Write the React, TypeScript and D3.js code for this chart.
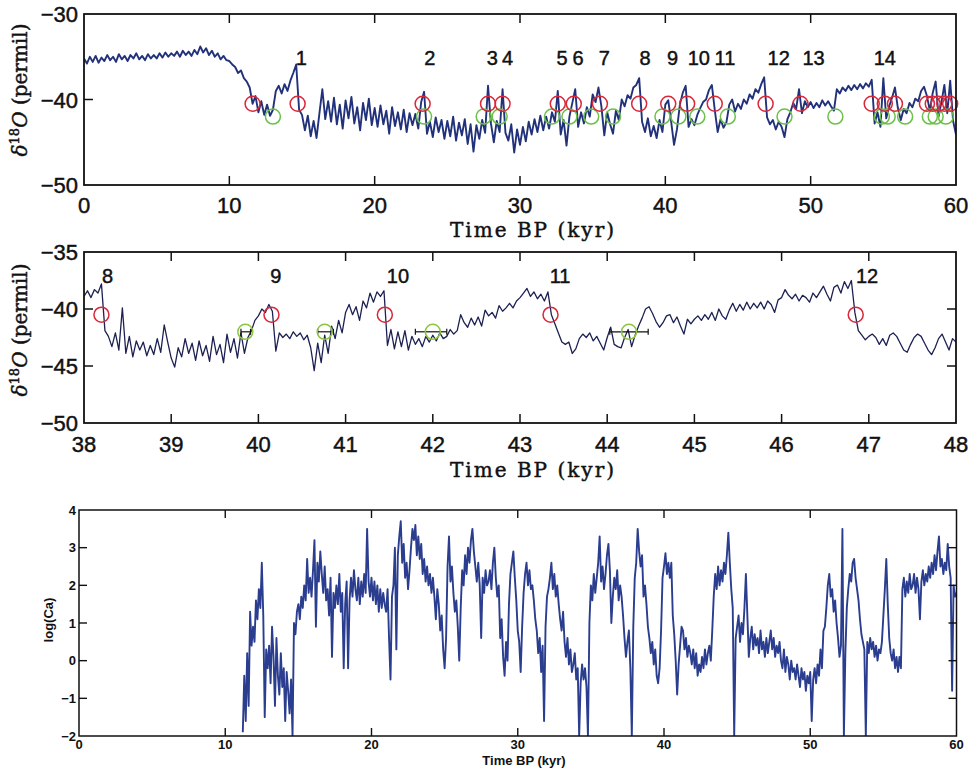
import React from 'react';
import * as d3 from 'd3';

// ---------- data ----------
// top panel: d18O, 0..60 kyr, sampled every 0.2 kyr
const topStart = 0;
const topStep = 0.2;
const topD18O: number[] = [
  -35.2, -35.8, -35.0, -35.6, -34.9, -35.7, -35.1, -35.5, -34.8, -35.4, -35.0, -35.6, -34.7, -35.3, -34.9, -35.5, -34.8, -35.2, -34.6, -35.3, -34.9, -35.4, -34.7, -35.2, -34.8,
  -35.2, -34.6, -35.1, -34.5, -35.0, -34.6, -34.9, -34.4, -35.0, -34.3, -34.8, -34.4, -34.9, -34.2, -34.7, -33.8, -34.5, -34.0, -34.8, -34.3, -35.0, -34.6, -35.3, -34.9, -35.4,
  -35.5, -35.9, -36.2, -36.9, -36.6, -37.5, -37.9, -38.6, -40.5, -39.6, -41.5, -40.2, -41.8, -40.6, -41.9, -41.2, -39.0, -38.4, -39.3, -38.2, -39.0, -37.8, -36.9, -35.9, -41.2,
  -41.8, -43.6, -41.9, -44.3, -42.5, -44.5, -41.6, -38.8, -42.3, -40.2, -42.6, -39.8, -42.9, -40.6, -43.4, -40.1, -42.2, -39.7, -42.8, -40.9, -43.6, -40.4, -42.4, -39.9, -43.0,
  -41.0, -43.2, -40.7, -42.9, -41.3, -44.0, -40.9, -43.1, -41.5, -43.5, -41.2, -43.8, -41.6, -43.0, -41.7, -43.4, -40.3, -39.1, -44.0, -42.6, -44.4, -42.1, -43.8, -42.4, -44.6,
  -42.5, -44.3, -42.0, -44.8, -42.7, -44.2, -42.3, -45.2, -42.9, -46.1, -43.0, -44.6, -42.4, -43.9, -38.4, -42.8, -45.0, -42.5, -43.8, -38.8, -43.9, -44.8, -42.9, -46.2, -43.5,
  -45.3, -43.2, -44.9, -42.6, -44.1, -42.3, -43.8, -41.9, -43.6, -42.0, -43.4, -41.5, -42.6, -39.0, -44.1, -42.4, -45.4, -42.0, -40.4, -38.8, -43.2, -41.5, -42.8, -40.9, -42.0,
  -39.4, -40.3, -38.6, -40.8, -44.2, -41.5, -42.9, -44.0, -41.3, -42.4, -40.0, -40.8, -39.5, -39.9, -38.6, -38.3, -37.5, -42.6, -43.8, -42.2, -44.3, -43.1, -44.5, -42.4, -43.8,
  -40.6, -40.1, -42.6, -45.3, -43.5, -40.6, -39.2, -38.4, -43.2, -42.3, -43.0, -41.8, -41.0, -40.3, -40.0, -38.9, -38.3, -41.2, -43.8, -42.3, -43.3, -42.7, -40.6, -40.0, -41.4,
  -40.5, -41.1, -40.0, -40.5, -39.4, -39.9, -38.8, -39.2, -38.2, -37.4, -42.1, -42.9, -42.4, -43.5, -42.6, -43.2, -44.4, -42.3, -41.5, -40.4, -41.1, -38.8, -41.6, -40.2, -40.9,
  -40.3, -41.0, -40.4, -40.9, -40.1, -40.7, -40.2, -40.8, -41.3, -38.8, -39.3, -38.6, -39.0, -38.4, -38.9, -38.3, -38.8, -38.2, -38.7, -38.1, -38.5, -37.7, -42.8, -41.5, -43.2,
  -37.5, -42.2, -40.8, -39.8, -38.6, -41.0, -42.4, -41.1, -41.6, -40.4, -40.9, -39.9, -40.2, -39.0, -38.5, -39.6, -41.3, -39.2, -37.9, -42.0, -40.3, -38.3, -41.6, -37.8, -42.5, -44.1,
];
const topRedKyr = [11.6, 14.7, 23.3, 27.8, 28.8, 32.6, 33.7, 35.5, 38.2, 40.2, 41.5, 43.4, 46.9, 49.3, 54.2, 55.1, 55.8, 58.0, 58.4, 58.8, 59.2, 59.6];
const topGreenKyr = [13.0, 23.4, 27.5, 28.6, 32.2, 33.4, 34.9, 36.4, 39.8, 40.9, 42.2, 44.3, 48.2, 51.7, 54.9, 55.3, 56.5, 58.2, 58.6, 59.3];
const redLevel = -40.5;
const greenLevel = -42;
const topEventLabels = ['1', '2', '3', '4', '5', '6', '7', '8', '9', '10', '11', '12', '13', '14'];
const topEventKyr = [14.95, 23.8, 28.1, 29.15, 32.9, 34.0, 35.8, 38.6, 40.5, 42.3, 44.1, 47.8, 50.2, 55.1];
const topXTicks = [0, 10, 20, 30, 40, 50, 60];
const topYTicks = [-30, -40, -50];

// middle panel: d18O, 38..48 kyr, sampled every 0.04 kyr
const midStart = 38;
const midStep = 0.04;
const midD18O: number[] = [
  -38.9, -38.4, -39.0, -38.3, -38.6, -37.8, -41.9, -42.4, -43.3, -42.1, -43.6, -39.9, -43.9, -42.4, -44.2, -42.8, -43.6, -42.9, -44.1, -43.2, -44.0, -42.6, -43.8, -41.4, -42.9,
  -44.3, -45.1, -43.4, -44.2, -42.6, -43.9, -43.0, -44.5, -42.8, -44.1, -43.2, -44.6, -42.4, -44.0, -43.1, -44.7, -42.2, -43.8, -42.6, -44.3, -42.1, -43.9, -42.5, -41.9, -41.0,
  -40.6, -40.0, -40.3, -39.6, -40.2, -43.7, -42.1, -42.5, -42.2, -42.6, -42.0, -42.4, -42.1, -42.7, -42.3, -43.4, -45.4, -43.0, -44.7, -42.3, -43.9, -41.5, -42.6, -41.0, -42.1,
  -40.3, -39.6, -40.5, -39.8, -41.0, -39.3, -39.9, -38.6, -39.4, -38.5, -38.9, -38.4, -43.2, -41.8, -43.5, -42.0, -43.3, -41.9, -43.6, -42.4, -43.1, -42.6, -43.3, -42.4, -42.9,
  -42.3, -42.8, -42.1, -42.6, -42.4, -41.8, -42.2, -41.9, -40.5, -41.2, -41.6, -40.8, -41.4, -40.7, -41.5, -40.1, -40.6, -40.3, -40.8, -39.7, -40.2, -39.9, -39.5, -39.9, -39.3,
  -39.0, -38.6, -38.2, -38.9, -38.5, -39.1, -38.7, -39.3, -38.5, -40.5, -41.3, -42.1, -42.9, -43.1, -42.9, -43.9, -43.5, -42.6, -42.2, -42.5, -42.1, -42.8, -42.4, -43.0, -43.6,
  -42.5, -41.6, -43.1, -43.3, -43.4, -42.5, -41.8, -43.3, -42.3, -41.5, -40.8, -40.0, -39.8, -40.4, -41.1, -41.6, -41.2, -40.6, -40.5, -41.2, -40.7, -41.5, -42.2, -40.9, -41.3,
  -40.9, -40.6, -41.0, -40.5, -40.9, -40.3, -41.0, -40.0, -40.6, -40.9, -40.1, -39.5, -40.2, -39.6, -40.1, -39.4, -40.0, -39.5, -39.9, -39.4, -40.0, -39.3, -39.6, -40.3, -39.2,
  -39.0, -38.3, -38.8, -39.1, -38.7, -39.3, -38.8, -39.0, -39.4, -38.6, -39.0, -38.5, -38.0, -38.7, -39.3, -38.1, -37.9, -38.6, -37.6, -38.2, -37.5, -40.3, -41.9, -42.3, -42.7,
  -42.4, -42.2, -42.5, -43.1, -42.6, -43.2, -42.3, -42.1, -42.4, -43.0, -43.6, -43.8, -43.1, -42.5, -42.2, -42.4, -43.0, -43.6, -44.0, -43.4, -42.6, -42.2, -42.9, -43.6, -42.6, -42.9,
];
const midRedKyr = [38.2, 40.15, 41.45, 43.35, 46.85];
const midGreenKyr = [39.85, 40.76, 42.0, 44.25];
const midErrLo = [39.8, 40.68, 41.8, 44.03];
const midErrHi = [39.91, 40.86, 42.16, 44.47];
const midEventLabels = ['8', '9', '10', '11', '12'];
const midEventKyr = [38.27, 40.2, 41.6, 43.46, 46.98];
const midXTicks = [38, 39, 40, 41, 42, 43, 44, 45, 46, 47, 48];
const midYTicks = [-35, -40, -45, -50];

// bottom panel: log(Ca), 11.2..60 kyr, sampled every 0.1 kyr
const caStart = 11.2;
const caStep = 0.1;
const logCa: number[] = [
  -1.9, -0.4, -1.6, 0.2, -1.2, 1.3, 0.4, 0.9,
  0.5, 1.6, 1.1, 1.9, 1.4, 2.6, 1.2, -1.5, 0.3, -0.2,
  0.4, -0.6, 0.9, 0.1, -1.2, 0.6, -0.4, -0.9, 0.2, -0.7,
  -0.2, -1.6, -0.3, -0.8, -1.4, -0.5, -2.0, 1.0, 0.7, 1.3,
  1.5, 1.1, 1.7, 1.4, 2.0, 1.6, 2.7, 1.8, 2.2, 1.7,
  2.4, 3.2, 0.9, 2.6, 2.1, 2.9, 2.3, 1.8, 2.5, 1.6,
  1.9, 1.2, 2.2, 0.1, 1.8, 1.4, 2.0, 1.5, 2.3, 1.3,
  1.8, -0.2, 1.5, 2.1, -0.2, 1.6, 2.2, 1.7, 2.4, 1.9,
  1.6, 2.2, 1.5, 2.1, 1.7, 2.3, 1.8, 3.5, 2.1, 1.7,
  2.2, 1.6, 2.1, 1.5, 2.0, 1.3, 1.9, 1.4, 1.8, 1.5,
  1.3, 1.9, 0.6, -0.5, 1.7, 2.0, 3.0, 0.3, 2.8, 3.3,
  3.7, 2.6, 3.1, 2.2, 2.6, 1.9, 2.4, 3.0, 3.5, 3.2,
  3.6, 2.8, 3.3, 2.7, 3.1, 2.3, 2.7, 2.1, 2.5, 2.0,
  2.3, 1.8, 2.2, 1.7, 1.1, 1.9, 1.5, 0.8, 1.2, 0.3,
  -0.2, 0.6, 2.5, 3.3, 2.1, 2.5, 1.8, 1.3, 1.6, 0.9,
  0.0, 1.4, 2.4, 2.0, 2.8, 2.3, 3.0, 2.6, 3.2, 3.5,
  2.9, 2.5, 2.1, 2.6, 2.0, 0.6, 2.2, 1.8, 2.4, 2.0,
  2.1, 2.4, 1.9, 2.6, 3.0, 2.2, 1.7, 2.0, 0.6, 1.1,
  0.1, -0.4, 0.5, 0.0, 1.5, 2.3, 2.6, 2.9, 2.2, 1.6,
  0.8, 0.5, -0.3, 0.9, 1.8, 2.3, 2.6, 2.0, 2.4, 1.9,
  2.0, 1.6, 1.1, 0.8, 0.2, 0.6, -0.3, 0.4, -1.6, 0.9,
  1.7, 1.9, 2.2, 2.6, 1.9, 2.3, 1.7, 2.0, 1.5, 1.1,
  0.8, 1.3, 0.5, 0.1, 0.6, -0.1, 0.3, -0.3, -0.1, 0.2,
  -0.5, -0.2, -2.0, -0.6, -0.1, -0.5, -0.2, -0.7, -2.0, 1.0,
  2.0, 1.6, 2.3, 1.8, 2.2, 2.6, 3.3, 2.1, 2.5, 1.9,
  2.3, 2.8, 3.1, 2.4, 1.0, 1.7, 2.2, 1.9, 2.4, 1.6,
  2.0, 1.7, 1.2, 0.6, 0.1, 0.5, 0.8, -0.2, -2.0, 0.9,
  2.2, 2.6, 3.5, 2.9, 2.5, 2.8, 1.7, 2.0, 1.5, 0.9,
  0.6, 0.2, 0.5, -0.1, 0.3, -0.4, -0.6, -0.2, 0.8, 2.2,
  2.5, 2.85, 2.3, 2.6, 2.2, 2.6, 1.2, 0.7, 0.0, -0.9,
  -0.1, 0.4, 0.9, 0.8, 0.3, 0.6, 0.1, 0.4, 0.2, -0.1,
  0.3, -0.2, 0.2, -0.4, -0.1, -0.3, 0.1, -0.2, 0.3, -0.1,
  0.2, 0.4, 0.0, 0.8, 1.7, 2.3, 1.9, 2.5, 2.0, 2.4,
  2.1, 2.6, 2.3, 2.8, 3.4, 2.6, 1.9, 1.4, -2.0, 0.6,
  0.9, 1.2, 0.5, 1.0, 0.7, 1.4, 2.3, 1.2, 0.1, 0.6,
  0.9, 0.3, 0.7, 0.4, 0.6, 0.2, 0.8, 0.3, 0.5, 0.1,
  0.6, 0.2, 0.5, 0.8, 0.3, 0.6, 0.1, 0.4, 0.2, 0.5,
  0.0, -0.2, 0.3, -0.3, 0.1, -0.1, -0.5, 0.0, -0.3, -0.2,
  -0.5, -0.1, -0.4, -0.7, -0.2, -0.5, -0.3, -0.8, -0.4, -0.6,
  -0.3, -1.6, -0.5, -0.2, -0.6, -0.1, -0.4, 0.3, -0.2, 0.8,
  0.9, 1.4, 2.0, 2.3, 1.7, 1.9, 1.3, 1.6, 1.0, 0.6,
  0.1, 0.4, 3.5, -2.0, 0.2, 1.4, 1.9, 2.3, 2.1, 2.6,
  2.7, 2.2, 1.9, 1.6, 1.1, 0.7, 0.5, 0.3, -2.0, 0.5,
  0.2, 0.6, 0.3, 0.5, 0.1, 0.4, 0.0, 0.3, 0.2, 0.5,
  1.2, 1.9, 2.7, 1.5, 0.6, 0.2, 0.0, 0.3, -0.2, 0.1,
  -0.3, 0.1, -0.2, 1.9, 2.2, 1.7, 2.1, 1.8, 2.3, 1.9,
  2.0, 2.3, 1.8, 2.2, 1.9, 1.1, 2.1, 2.4, 2.0, 2.3,
  2.1, 2.5, 2.2, 2.6, 2.3, 2.8, 2.4, 2.9, 3.3, 2.5,
  2.7, 2.3, 2.6, 2.4, 3.1, 2.5, 2.2, -0.8, 2.0, 1.7,
  1.8,
];
const caXTicks = [0, 10, 20, 30, 40, 50, 60];
const caYTicks = [4, 3, 2, 1, 0, -1, -2];

// ---------- styling ----------
const SANS = "'Liberation Sans', Arial, Helvetica, sans-serif";
const SERIF = "'DejaVu Serif', 'Liberation Serif', serif";
const INK = '#111';

type P = [number, number];

function series(start: number, step: number, vals: number[]): P[] {
  return vals.map((v, i) => [start + i * step, v] as P);
}

export default function App() {
  // scales
  const xTop = d3.scaleLinear().domain([0, 60]).range([84, 956]);
  const yTop = d3.scaleLinear().domain([-50, -30]).range([185, 14]);
  const xMid = d3.scaleLinear().domain([38, 48]).range([84, 956]);
  const yMid = d3.scaleLinear().domain([-50, -35]).range([423, 252]);
  const xCa = d3.scaleLinear().domain([0, 60]).range([79, 956.5]);
  const yCa = d3.scaleLinear().domain([-2, 4]).range([736, 510]);

  const topLine = d3.line<P>().x((d) => xTop(d[0])).y((d) => yTop(d[1]))(series(topStart, topStep, topD18O)) || '';
  const midLine = d3.line<P>().x((d) => xMid(d[0])).y((d) => yMid(d[1]))(series(midStart, midStep, midD18O)) || '';
  const caLine = d3.line<P>().x((d) => xCa(d[0])).y((d) => yCa(d[1]))(series(caStart, caStep, logCa)) || '';

  const tl = 9; // tick length for upper panels
  const tlc = 8; // tick length for Ca panel

  const heavy = { stroke: INK, strokeWidth: 0.45 };

  const yLabel = (cx: number, cy: number) => (
    <text
      transform={`translate(${cx},${cy}) rotate(-90)`}
      textAnchor="middle"
      fontFamily={SERIF}
      fontSize={20}
      fill={INK}
      {...heavy}
    >
      <tspan fontStyle="italic">δ</tspan>
      <tspan fontSize={13} dy={-8}>18</tspan>
      <tspan fontStyle="italic" dy={8}>O</tspan>
      <tspan>{' (permil)'}</tspan>
    </text>
  );

  const xTitle = (y: number) => (
    <text x={533} y={y} textAnchor="middle" fontFamily={SERIF} fontSize={20} letterSpacing={2} fill={INK} {...heavy}>
      Time BP (kyr)
    </text>
  );

  return (
    <svg
      width={979}
      height={770}
      viewBox="0 0 979 770"
      style={{ position: 'absolute', left: 0, top: 0, display: 'block', background: '#fff' }}
    >
      <defs>
        <clipPath id="clipTop">
          <rect x={84} y={14} width={872} height={171} />
        </clipPath>
        <clipPath id="clipMid">
          <rect x={84} y={252} width={872} height={171} />
        </clipPath>
        <clipPath id="clipCa">
          <rect x={79} y={510} width={877.5} height={226} />
        </clipPath>
      </defs>
      <rect x={0} y={0} width={979} height={770} fill="#fff" />

      {/* ================= TOP PANEL ================= */}
      <g clipPath="url(#clipTop)">
        <path d={topLine} fill="none" stroke="#22327a" strokeWidth={1.9} strokeLinejoin="round" />
      </g>
      {topGreenKyr.map((k, i) => (
        <circle key={'tg' + i} cx={xTop(k)} cy={yTop(greenLevel)} r={7.5} fill="none" stroke="#6cc04a" strokeWidth={1.5} />
      ))}
      {topRedKyr.map((k, i) => (
        <circle key={'tr' + i} cx={xTop(k)} cy={yTop(redLevel)} r={7.5} fill="none" stroke="#d8283a" strokeWidth={1.5} />
      ))}
      {topEventLabels.map((s, i) => (
        <text key={'tl' + i} x={xTop(topEventKyr[i])} y={65} textAnchor="middle" fontFamily={SANS} fontSize={20} fill={INK} {...heavy}>
          {s}
        </text>
      ))}
      <rect x={84} y={14} width={872} height={171} fill="none" stroke={INK} strokeWidth={1.8} />
      {topXTicks.filter((t) => t > 0 && t < 60).map((t) => (
        <g key={'ttx' + t}>
          <line x1={xTop(t)} x2={xTop(t)} y1={14} y2={14 + tl} stroke={INK} strokeWidth={1.5} />
          <line x1={xTop(t)} x2={xTop(t)} y1={185} y2={185 - tl} stroke={INK} strokeWidth={1.5} />
        </g>
      ))}
      {topYTicks.filter((t) => t > -50 && t < -30).map((t) => (
        <line key={'tty' + t} x1={84} x2={84 + tl} y1={yTop(t)} y2={yTop(t)} stroke={INK} strokeWidth={1.5} />
      ))}
      {topXTicks.map((t) => (
        <text key={'txl' + t} x={xTop(t)} y={213} textAnchor="middle" fontFamily={SANS} fontSize={22} fill={INK} {...heavy}>
          {String(t)}
        </text>
      ))}
      {topYTicks.map((t) => (
        <text key={'tyl' + t} x={78} y={yTop(t) + 8} textAnchor="end" fontFamily={SANS} fontSize={22} fill={INK} {...heavy}>
          {'\u2212' + Math.abs(t)}
        </text>
      ))}
      {xTitle(237)}
      {yLabel(27, 90)}

      {/* ================= MIDDLE PANEL ================= */}
      <g clipPath="url(#clipMid)">
        <path d={midLine} fill="none" stroke="#1c2152" strokeWidth={1.3} strokeLinejoin="round" />
      </g>
      {midErrLo.map((lo, i) => (
        <g key={'me' + i} stroke={INK} strokeWidth={1.2}>
          <line x1={xMid(lo)} x2={xMid(midErrHi[i])} y1={yMid(greenLevel)} y2={yMid(greenLevel)} />
          <line x1={xMid(lo)} x2={xMid(lo)} y1={yMid(greenLevel) - 3} y2={yMid(greenLevel) + 3} />
          <line x1={xMid(midErrHi[i])} x2={xMid(midErrHi[i])} y1={yMid(greenLevel) - 3} y2={yMid(greenLevel) + 3} />
        </g>
      ))}
      {midGreenKyr.map((k, i) => (
        <circle key={'mg' + i} cx={xMid(k)} cy={yMid(greenLevel)} r={7.5} fill="none" stroke="#8cc63f" strokeWidth={1.5} />
      ))}
      {midRedKyr.map((k, i) => (
        <circle key={'mr' + i} cx={xMid(k)} cy={yMid(redLevel)} r={7.5} fill="none" stroke="#d8283a" strokeWidth={1.5} />
      ))}
      {midEventLabels.map((s, i) => (
        <text key={'ml' + i} x={xMid(midEventKyr[i])} y={283} textAnchor="middle" fontFamily={SANS} fontSize={20} fill={INK} {...heavy}>
          {s}
        </text>
      ))}
      <rect x={84} y={252} width={872} height={171} fill="none" stroke={INK} strokeWidth={1.8} />
      {midXTicks.filter((t) => t > 38 && t < 48).map((t) => (
        <g key={'mtx' + t}>
          <line x1={xMid(t)} x2={xMid(t)} y1={252} y2={252 + tl} stroke={INK} strokeWidth={1.5} />
          <line x1={xMid(t)} x2={xMid(t)} y1={423} y2={423 - tl} stroke={INK} strokeWidth={1.5} />
        </g>
      ))}
      {midYTicks.filter((t) => t > -50 && t < -35).map((t) => (
        <g key={'mty' + t}>
          <line x1={84} x2={84 + tl} y1={yMid(t)} y2={yMid(t)} stroke={INK} strokeWidth={1.5} />
          <line x1={956} x2={956 - tl} y1={yMid(t)} y2={yMid(t)} stroke={INK} strokeWidth={1.5} />
        </g>
      ))}
      {midXTicks.map((t) => (
        <text key={'mxl' + t} x={xMid(t)} y={452} textAnchor="middle" fontFamily={SANS} fontSize={22} fill={INK} {...heavy}>
          {String(t)}
        </text>
      ))}
      {midYTicks.map((t) => (
        <text key={'myl' + t} x={78} y={yMid(t) + 8} textAnchor="end" fontFamily={SANS} fontSize={22} fill={INK} {...heavy}>
          {'\u2212' + Math.abs(t)}
        </text>
      ))}
      {xTitle(477)}
      {yLabel(27, 330)}

      {/* ================= BOTTOM PANEL ================= */}
      <g clipPath="url(#clipCa)">
        <path d={caLine} fill="none" stroke="#2a3d8f" strokeWidth={1.9} strokeLinejoin="round" />
      </g>
      <rect x={79} y={510} width={877.5} height={226} fill="none" stroke={INK} strokeWidth={1.5} />
      {caXTicks.filter((t) => t > 0 && t < 60).map((t) => (
        <g key={'ctx' + t}>
          <line x1={xCa(t)} x2={xCa(t)} y1={510} y2={510 + tlc} stroke={INK} strokeWidth={1.4} />
          <line x1={xCa(t)} x2={xCa(t)} y1={736} y2={736 - tlc} stroke={INK} strokeWidth={1.4} />
        </g>
      ))}
      {caYTicks.filter((t) => t > -2 && t < 4).map((t) => (
        <g key={'cty' + t}>
          <line x1={79} x2={79 + tlc} y1={yCa(t)} y2={yCa(t)} stroke={INK} strokeWidth={1.4} />
          <line x1={956.5} x2={956.5 - tlc} y1={yCa(t)} y2={yCa(t)} stroke={INK} strokeWidth={1.4} />
        </g>
      ))}
      {caXTicks.map((t) => (
        <text key={'cxl' + t} x={xCa(t)} y={749} textAnchor="middle" fontFamily={SANS} fontSize={13} fontWeight="bold" fill={INK}>
          {String(t)}
        </text>
      ))}
      {caYTicks.map((t) => (
        <text key={'cyl' + t} x={76} y={yCa(t) + 4.5} textAnchor="end" fontFamily={SANS} fontSize={13} fontWeight="bold" fill={INK}>
          {t < 0 ? '\u2212' + Math.abs(t) : String(t)}
        </text>
      ))}
      <text x={524} y={765} textAnchor="middle" fontFamily={SANS} fontSize={13} fontWeight="bold" fill={INK}>
        Time BP (kyr)
      </text>
      <text transform="translate(53,620) rotate(-90)" textAnchor="middle" fontFamily={SANS} fontSize={13} fontWeight="bold" fill={INK}>
        log(Ca)
      </text>
    </svg>
  );
}
